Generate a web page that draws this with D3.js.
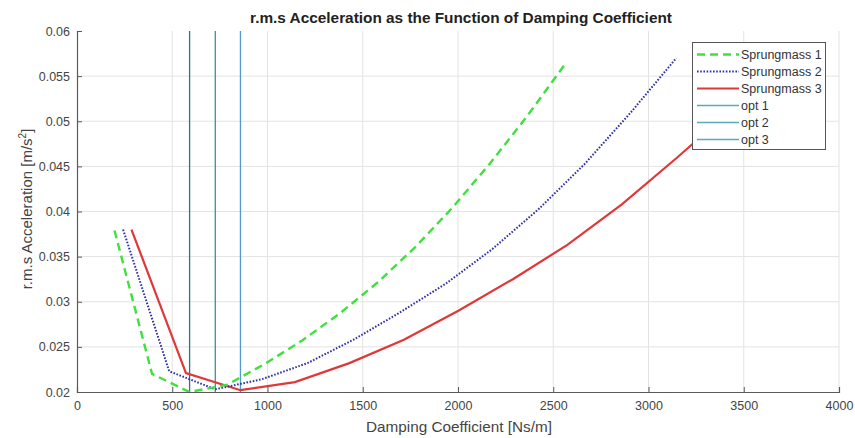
<!DOCTYPE html>
<html><head><meta charset="utf-8">
<script src="https://cdn.jsdelivr.net/npm/d3@7"></script>
<style>body{margin:0;background:#fff;} svg{display:block;font-family:"Liberation Sans",Arial,sans-serif;}</style>
</head><body>
<svg id="c" width="855" height="438"></svg>
<script>
// ---- data ----
const xTicks = [0,500,1000,1500,2000,2500,3000,3500,4000];
const yTicks = [0.02,0.025,0.03,0.035,0.04,0.045,0.05,0.055,0.06];
const yTickLabels = ["0.02","0.025","0.03","0.035","0.04","0.045","0.05","0.055","0.06"];
const s1x = [197,394,591,788,985,1182,1379,1576,1773,1970,2167,2364,2561];
const s1y = [0.0379,0.0220,0.0200,0.0208,0.0231,0.0257,0.0287,0.0321,0.0360,0.0404,0.0453,0.0506,0.0563];
const s2x = [242,484,726,968,1210,1452,1694,1936,2178,2420,2662,2904,3146];
const s2y = [0.0380,0.0223,0.0203,0.0214,0.0232,0.0258,0.0288,0.0320,0.0358,0.0402,0.0452,0.0509,0.0570];
const s3x = [286,572,858,1144,1430,1716,2002,2288,2574,2860,3146,3432,3718];
const s3y = [0.0380,0.0221,0.0202,0.0211,0.0232,0.0258,0.0290,0.0325,0.0363,0.0408,0.0459,0.0512,0.0570];
const optX = [591,726,858];
const seriesNames = ["Sprungmass 1","Sprungmass 2","Sprungmass 3","opt 1","opt 2","opt 3"];

const svg = d3.select("#c");
const L=77, R=839, T=31, B=392;
const x = d3.scaleLinear().domain([0,4000]).range([L,R]);
const y = d3.scaleLinear().domain([0.02,0.06]).range([B,T]);
const axisCol = "#5a5a5a", textCol="#444";

function fitWidth(sel, target){
  const w = sel.node().getComputedTextLength();
  const fs = parseFloat(sel.style("font-size"));
  if(w>0) sel.style("font-size",(fs*target/w).toFixed(2)+"px");
}

// grid
const g = svg.append("g");
g.selectAll(".vg").data(xTicks.slice(1)).enter().append("line")
  .attr("x1",d=>x(d)).attr("x2",d=>x(d)).attr("y1",T).attr("y2",B)
  .attr("stroke","#e3e3e3").attr("stroke-width",1);
g.selectAll(".hg").data(yTicks.slice(1,-1)).enter().append("line")
  .attr("x1",L).attr("x2",R).attr("y1",d=>y(d)).attr("y2",d=>y(d))
  .attr("stroke","#e3e3e3").attr("stroke-width",1);

// opt lines
const optCols = ["#2b7488","#3a90a2","#4d9ec6"];
optX.forEach((v,i)=>{
  svg.append("line").attr("x1",x(v)).attr("x2",x(v)).attr("y1",T).attr("y2",B)
    .attr("stroke",optCols[i]).attr("stroke-width",1.3);
});

const line = d3.line().x(d=>x(d[0])).y(d=>y(d[1]));
const mk = (xs,ys)=>xs.map((v,i)=>[v,ys[i]]);
svg.append("path").attr("d",line(mk(s3x,s3y))).attr("fill","none")
  .attr("stroke","#e03838").attr("stroke-width",2.2);
svg.append("path").attr("d",line(mk(s2x,s2y))).attr("fill","none")
  .attr("stroke","#3030a8").attr("stroke-width",2).attr("stroke-dasharray","1.6,1.6");
svg.append("path").attr("d",line(mk(s1x,s1y))).attr("fill","none")
  .attr("stroke","#40e040").attr("stroke-width",2.4).attr("stroke-dasharray","8,5");

// axes
const xa = svg.append("g").attr("transform",`translate(0,${B})`)
  .call(d3.axisBottom(x).tickValues(xTicks).tickSize(-5).tickPadding(12).tickFormat(d3.format("d")));
const ya = svg.append("g").attr("transform",`translate(${L},0)`)
  .call(d3.axisLeft(y).tickValues(yTicks).tickSize(-5).tickPadding(7).tickFormat((d,i)=>yTickLabels[i]));
[xa,ya].forEach(a=>{
  a.select(".domain").attr("stroke",axisCol).attr("stroke-width",1.2);
  a.selectAll(".tick line").attr("stroke",axisCol);
  a.selectAll("text").attr("fill",textCol).style("font-size","12.5px").style("font-family","Liberation Sans, Arial, sans-serif");
});
xa.selectAll("text").attr("dy","0.5em");

// titles
const tt = svg.append("text").attr("x",461).attr("y",23).attr("text-anchor","middle")
  .style("font-weight","bold").style("font-size","13px").attr("fill","#222")
  .text("r.m.s Acceleration as the Function of Damping Coefficient");
fitWidth(tt,422);
const xl = svg.append("text").attr("x",459).attr("y",432).attr("text-anchor","middle")
  .style("font-size","13.5px").attr("fill",textCol).text("Damping Coefficient [Ns/m]");
fitWidth(xl,186);
const yl = svg.append("text").attr("transform",`translate(32,${(123+295)/2}) rotate(-90)`)
  .attr("text-anchor","middle").style("font-size","15px").attr("fill",textCol);
yl.append("tspan").text("r.m.s Acceleration [m/s");
yl.append("tspan").attr("dy","-6").style("font-size","10px").text("2");
yl.append("tspan").attr("dy","6").text("]");

// legend
const lg = svg.append("g");
lg.append("rect").attr("x",692.5).attr("y",42.5).attr("width",133).attr("height",107)
  .attr("fill","#fff").attr("stroke","#555").attr("stroke-width",1);
const legStyles = [
  {c:"#40e040",w:2.4,da:"8,5"},
  {c:"#3030a8",w:2,da:"1.6,1.6"},
  {c:"#e03838",w:2.2,da:null},
  {c:"#5aaab4",w:1.3,da:null},
  {c:"#5aaab4",w:1.3,da:null},
  {c:"#5aaab4",w:1.3,da:null}
];
seriesNames.forEach((n,i)=>{
  const yy = 54.5 + i*17;
  const l = lg.append("line").attr("x1",697).attr("x2",739).attr("y1",yy).attr("y2",yy)
    .attr("stroke",legStyles[i].c).attr("stroke-width",legStyles[i].w);
  if(legStyles[i].da) l.attr("stroke-dasharray",legStyles[i].da);
  lg.append("text").attr("x",741).attr("y",yy).attr("dy","0.35em")
    .style("font-size","12.5px").attr("fill","#333").text(n);
});
</script>
</body></html>
